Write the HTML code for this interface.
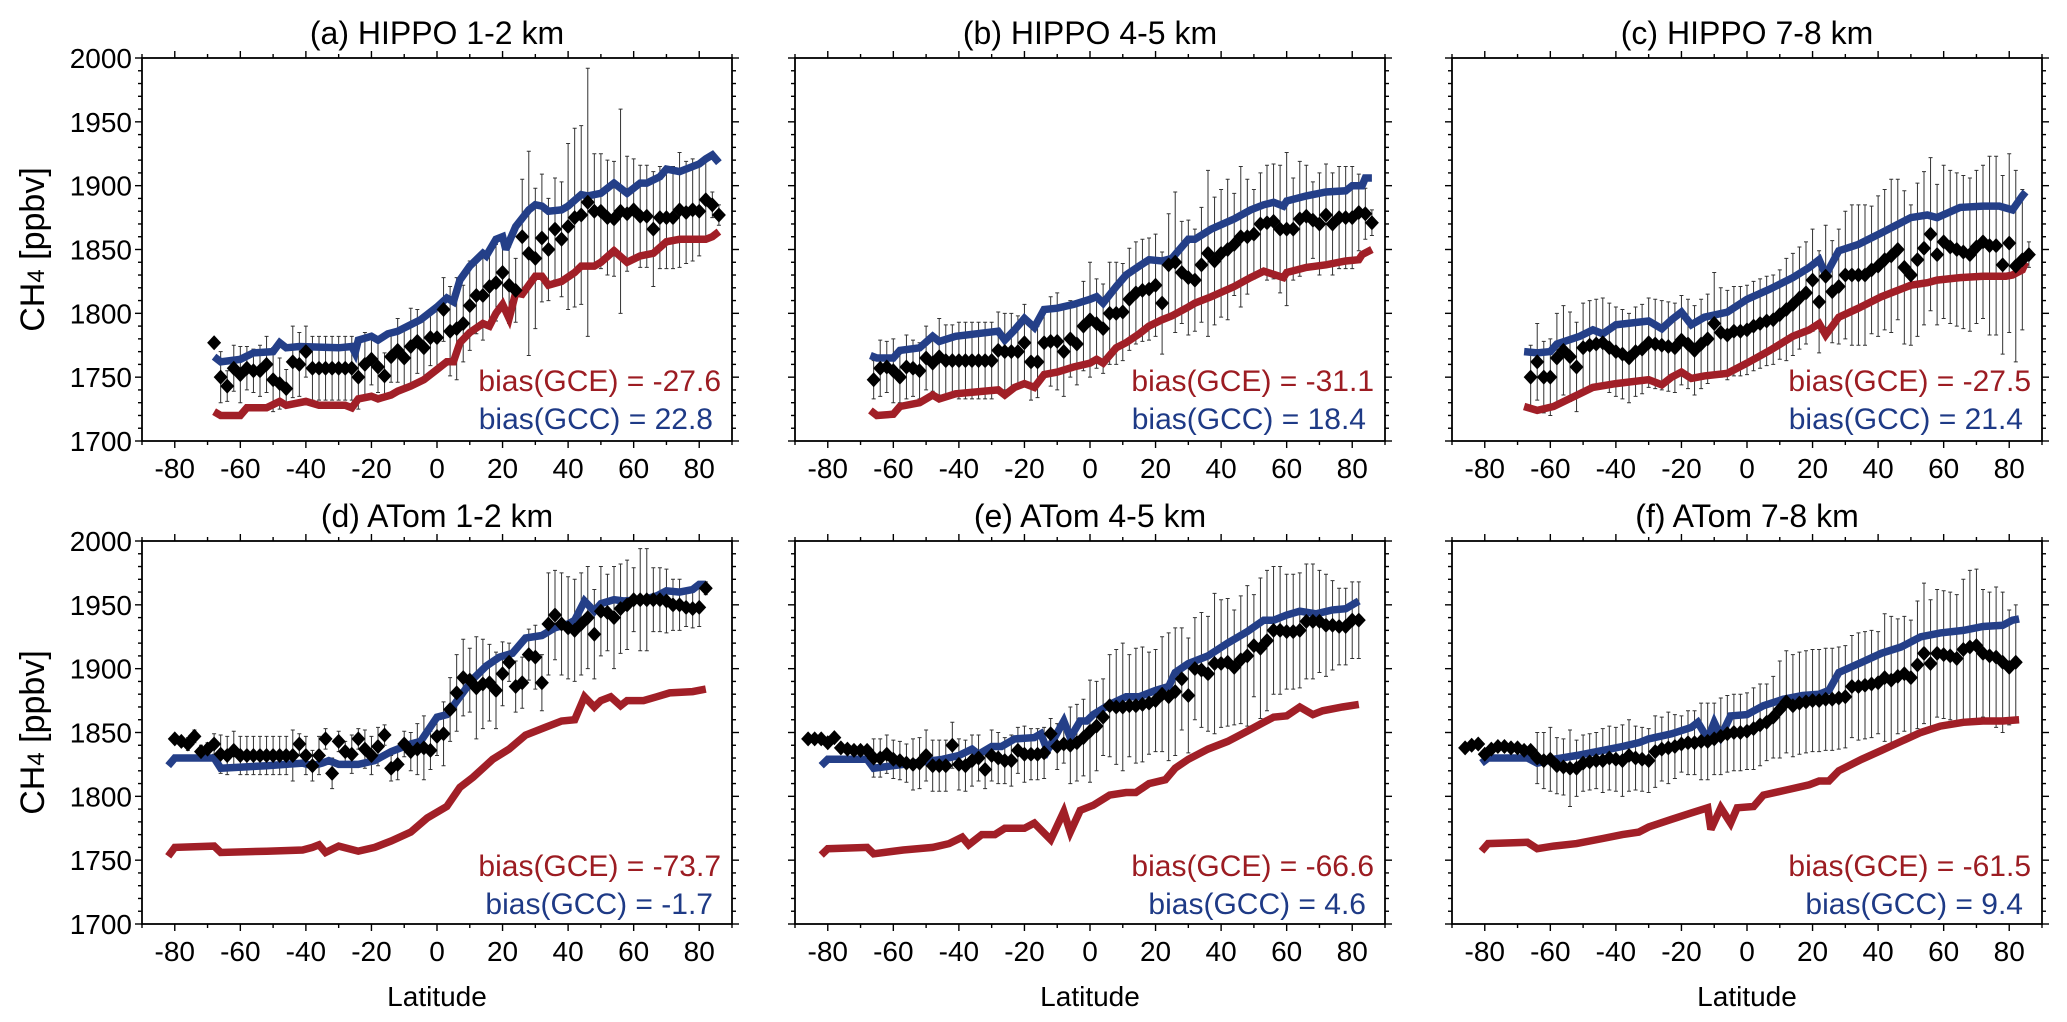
<!DOCTYPE html>
<html><head><meta charset="utf-8"><title>CH4 latitude profiles</title>
<style>
html,body{margin:0;padding:0;background:#fff;}
svg{display:block;font-family:"Liberation Sans",Arial,sans-serif;}
</style></head>
<body>
<svg id="chart" xmlns="http://www.w3.org/2000/svg" width="2067" height="1022" viewBox="0 0 2067 1022">
<rect x="0" y="0" width="2067" height="1022" fill="#fff"/>
</svg>
<script>
// ---------- shared axis data ----------
const X_TICKS = [-80,-60,-40,-20,0,20,40,60,80];
const Y_TICKS = [1700,1750,1800,1850,1900,1950,2000];
const PANEL_TITLES = ["(a) HIPPO 1-2 km","(b) HIPPO 4-5 km","(c) HIPPO 7-8 km","(d) ATom 1-2 km","(e) ATom 4-5 km","(f) ATom 7-8 km"];
const BIAS_GCE = ["-27.6","-31.1","-27.5","-73.7","-66.6","-61.5"];
const BIAS_GCC = ["22.8","18.4","21.4","-1.7","4.6","9.4"];

// ---------- panel (a) ----------
const A_GCC_LAT = [-68,-66,-60,-56,-50,-48,-46,-42,-30,-26,-25,-24,-20,-18,-15,-12,-5,0,3,5,7,10,14,15,18,20,21,24,28,30,32,34,38,40,44,46,50,54,58,62,64,68,70,74,80,82,84,86];
const A_GCC_VAL = [1766,1762,1764,1769,1770,1777,1773,1774,1773,1774,1769,1779,1782,1779,1784,1786,1795,1805,1812,1809,1826,1837,1847,1845,1858,1860,1850,1868,1881,1885,1884,1880,1881,1884,1893,1892,1894,1902,1894,1902,1902,1907,1913,1911,1917,1921,1924,1918];
const A_GCE_LAT = [-68,-66,-60,-58,-52,-48,-46,-40,-36,-28,-26,-24,-20,-18,-14,-12,-8,-4,0,3,5,7,10,14,16,18,20,22,24,26,30,32,34,38,42,44,48,50,54,58,62,66,70,74,78,82,84,86];
const A_GCE_VAL = [1723,1720,1720,1726,1726,1731,1728,1731,1728,1728,1726,1733,1735,1733,1736,1739,1743,1748,1756,1762,1762,1777,1785,1792,1790,1800,1807,1796,1816,1815,1829,1829,1822,1825,1832,1837,1837,1840,1849,1840,1845,1847,1856,1858,1858,1858,1860,1864];
const A_OBS_LAT = [-68,-66,-64,-62,-60,-58,-56,-54,-52,-50,-48,-46,-44,-42,-40,-38,-36,-34,-32,-30,-28,-26,-24,-22,-20,-18,-16,-14,-12,-10,-8,-6,-4,-2,0,2,4,6,8,10,12,14,16,18,20,22,24,26,28,30,32,34,36,38,40,42,44,46,48,50,52,54,56,58,60,62,64,66,68,70,72,74,76,78,80,82,84,86];
const A_OBS_VAL = [1777,1750,1743,1757,1752,1757,1755,1755,1760,1748,1745,1741,1762,1760,1770,1757,1757,1757,1757,1757,1757,1757,1750,1760,1764,1758,1751,1766,1771,1765,1774,1778,1773,1781,1781,1803,1786,1788,1792,1806,1814,1814,1821,1824,1832,1822,1818,1860,1847,1843,1859,1850,1866,1858,1868,1875,1877,1887,1880,1880,1875,1874,1880,1878,1881,1876,1876,1866,1875,1875,1875,1881,1879,1881,1880,1889,1885,1877];
const A_OBS_ERR = [0,20,12,18,22,17,17,20,22,25,20,15,28,25,20,25,25,25,25,25,25,25,25,25,20,20,18,20,25,22,30,25,25,22,25,25,35,40,30,35,30,35,30,30,30,30,25,45,80,55,50,40,40,45,65,70,70,105,45,45,45,45,80,45,40,40,40,45,40,40,40,45,40,40,35,30,10,8];

// ---------- panel (b) ----------
const B_GCC_LAT = [-67,-65,-60,-58,-52,-48,-46,-41,-28,-26,-23,-20,-17,-14,-10,-5,0,2,4,8,11,15,18,22,25,30,32,37,44,49,53,56,59,60,66,72,78,80,83,84,86];
const B_GCC_VAL = [1767,1765,1765,1771,1773,1782,1778,1782,1786,1779,1787,1796,1789,1803,1804,1807,1811,1813,1808,1821,1830,1837,1842,1841,1843,1858,1858,1866,1874,1881,1885,1887,1884,1888,1892,1895,1896,1900,1900,1906,1906];
const B_GCE_LAT = [-67,-65,-60,-58,-52,-48,-46,-41,-28,-26,-23,-20,-17,-14,-10,-5,0,2,4,8,11,15,18,22,25,30,32,37,44,49,53,59,60,66,72,78,82,83,86];
const B_GCE_VAL = [1724,1720,1721,1727,1730,1736,1733,1737,1740,1736,1742,1745,1742,1752,1754,1758,1761,1764,1761,1773,1777,1784,1790,1795,1798,1805,1808,1813,1821,1828,1833,1828,1832,1836,1838,1841,1842,1846,1850];
const B_OBS_LAT = [-66,-64,-62,-60,-58,-56,-54,-52,-50,-48,-46,-44,-42,-40,-38,-36,-34,-32,-30,-28,-26,-24,-22,-20,-18,-16,-14,-12,-10,-8,-6,-4,-2,0,2,4,6,8,10,12,14,16,18,20,22,24,26,28,30,32,34,36,38,40,42,44,46,48,50,52,54,56,58,60,62,64,66,68,70,72,74,76,78,80,82,84,86];
const B_OBS_VAL = [1748,1757,1758,1755,1750,1758,1757,1755,1765,1761,1766,1763,1763,1763,1763,1763,1763,1763,1763,1771,1770,1770,1770,1777,1762,1762,1777,1778,1778,1770,1780,1776,1790,1795,1792,1788,1800,1800,1801,1811,1816,1818,1819,1822,1808,1838,1840,1832,1828,1826,1838,1847,1841,1847,1850,1854,1860,1860,1862,1870,1871,1872,1866,1866,1866,1874,1876,1873,1870,1877,1870,1875,1875,1875,1879,1878,1871];
const B_OBS_ERR = [15,22,20,25,20,25,22,22,25,22,30,28,28,30,30,30,30,30,30,30,30,30,28,30,30,28,25,35,38,35,30,32,35,45,35,35,40,40,38,40,40,40,40,40,40,40,55,40,45,40,45,65,50,50,55,40,55,45,35,40,45,45,50,60,40,45,40,30,40,40,40,40,40,40,30,20,10];

// ---------- panel (c) ----------
const C_GCC_LAT = [-68,-64,-60,-58,-51,-47,-44,-40,-30,-26,-23,-20,-17,-13,-6,0,7,14,19,22,24,28,34,41,50,55,58,65,72,77,81,84,85];
const C_GCC_VAL = [1770,1769,1770,1776,1782,1787,1784,1791,1794,1788,1795,1801,1791,1797,1801,1811,1819,1828,1836,1842,1830,1849,1854,1863,1875,1877,1875,1883,1884,1884,1881,1892,1895];
const C_GCE_LAT = [-68,-64,-59,-51,-47,-40,-30,-26,-23,-20,-17,-13,-6,0,7,14,19,22,24,28,34,41,50,55,58,65,72,79,81,84,85];
const C_GCE_VAL = [1727,1724,1727,1737,1742,1745,1748,1744,1750,1754,1749,1751,1753,1761,1771,1782,1787,1792,1783,1797,1804,1813,1822,1824,1826,1828,1829,1829,1830,1834,1840];
const C_OBS_LAT = [-66,-64,-62,-60,-58,-56,-54,-52,-50,-48,-46,-44,-42,-40,-38,-36,-34,-32,-30,-28,-26,-24,-22,-20,-18,-16,-14,-12,-10,-8,-6,-4,-2,0,2,4,6,8,10,12,14,16,18,20,22,24,26,28,30,32,34,36,38,40,42,44,46,48,50,52,54,56,58,60,62,64,66,68,70,72,74,76,78,80,82,84,86];
const C_OBS_VAL = [1750,1762,1750,1750,1765,1771,1766,1758,1773,1775,1776,1777,1773,1770,1768,1765,1770,1772,1777,1776,1775,1774,1773,1779,1776,1771,1776,1780,1792,1785,1783,1786,1786,1787,1790,1792,1794,1795,1799,1803,1807,1812,1816,1826,1809,1829,1817,1821,1830,1830,1830,1830,1834,1837,1842,1845,1850,1836,1830,1842,1851,1862,1846,1856,1852,1850,1848,1846,1852,1856,1853,1853,1838,1855,1837,1842,1846];
const C_OBS_ERR = [25,30,28,30,35,35,35,35,35,35,35,35,35,35,35,35,35,35,35,35,35,35,35,35,35,35,35,35,40,35,35,35,35,35,35,35,35,35,35,40,40,40,40,40,40,40,40,45,50,55,55,55,50,55,55,60,55,60,55,60,60,60,55,60,60,60,60,60,60,60,70,70,70,70,75,55,10];

// ---------- panel (d) ----------
const D_GCC_LAT = [-82,-80,-68,-66,-52,-41,-38,-35,-33,-30,-24,-19,-14,-8,-5,0,3,7,11,15,19,23,27,32,36,40,42,45,48,50,54,57,63,67,70,74,78,80,82];
const D_GCC_VAL = [1824,1830,1830,1822,1824,1826,1824,1826,1828,1825,1825,1828,1835,1841,1843,1862,1864,1878,1892,1902,1909,1912,1924,1926,1932,1935,1938,1953,1945,1951,1954,1953,1954,1957,1961,1960,1962,1966,1966];
const D_GCE_LAT = [-82,-80,-68,-66,-52,-41,-38,-36,-34,-30,-24,-19,-14,-8,-3,3,7,11,17,22,27,33,38,42,45,48,50,53,56,58,63,67,71,78,82];
const D_GCE_VAL = [1753,1760,1761,1756,1757,1758,1760,1762,1756,1761,1757,1760,1765,1772,1783,1792,1807,1815,1829,1837,1848,1854,1859,1860,1878,1870,1875,1878,1871,1875,1875,1878,1881,1882,1884];
const D_OBS_LAT = [-80,-78,-76,-74,-72,-70,-68,-66,-64,-62,-60,-58,-56,-54,-52,-50,-48,-46,-44,-42,-40,-38,-36,-34,-32,-30,-28,-26,-24,-22,-20,-18,-16,-14,-12,-10,-8,-6,-4,-2,0,2,4,6,8,10,12,14,16,18,20,22,24,26,28,30,32,34,36,38,40,42,44,46,48,50,52,54,56,58,60,62,64,66,68,70,72,74,76,78,80,82];
const D_OBS_VAL = [1845,1843,1841,1847,1835,1837,1841,1833,1832,1836,1832,1832,1832,1832,1832,1832,1832,1832,1832,1841,1832,1824,1832,1845,1818,1843,1835,1833,1845,1837,1832,1839,1848,1822,1825,1841,1835,1837,1838,1836,1847,1849,1868,1881,1893,1891,1885,1888,1889,1883,1896,1905,1886,1889,1911,1909,1889,1935,1942,1935,1932,1930,1935,1940,1927,1945,1944,1940,1947,1950,1954,1954,1954,1954,1954,1953,1950,1950,1948,1947,1948,1963];
const D_OBS_ERR = [0,0,5,5,5,5,8,15,15,15,15,15,15,15,15,15,15,15,20,8,15,12,15,8,12,8,8,15,8,15,15,15,8,10,12,10,15,20,25,15,15,25,25,30,30,25,40,35,30,30,25,15,20,20,20,25,22,40,35,40,40,40,40,40,35,35,30,40,35,35,25,40,40,25,25,25,20,20,15,15,15,5];

// ---------- panel (e) ----------
const E_GCC_LAT = [-82,-80,-68,-66,-57,-45,-40,-36,-34,-30,-27,-23,-17,-15,-13,-8,-6,-3,-1,1,6,11,15,20,24,26,30,36,42,48,53,56,60,64,69,74,78,82];
const E_GCC_VAL = [1824,1829,1829,1822,1825,1829,1832,1837,1833,1839,1839,1845,1846,1849,1836,1859,1846,1859,1859,1864,1872,1878,1878,1883,1886,1897,1904,1910,1920,1929,1938,1938,1942,1945,1943,1946,1947,1953];
const E_GCE_LAT = [-82,-80,-68,-66,-57,-48,-43,-39,-37,-33,-29,-26,-20,-17,-12,-8,-6,-3,-1,1,6,11,14,18,23,26,30,36,42,48,53,56,60,64,68,71,77,82];
const E_GCE_VAL = [1754,1759,1760,1755,1758,1760,1763,1768,1762,1770,1770,1775,1775,1779,1766,1788,1772,1789,1791,1793,1801,1803,1803,1810,1813,1822,1829,1837,1843,1851,1858,1862,1863,1870,1864,1867,1870,1872];
const E_OBS_LAT = [-86,-84,-82,-80,-78,-76,-74,-72,-70,-68,-66,-64,-62,-60,-58,-56,-54,-52,-50,-48,-46,-44,-42,-40,-38,-36,-34,-32,-30,-28,-26,-24,-22,-20,-18,-16,-14,-12,-10,-8,-6,-4,-2,0,2,4,6,8,10,12,14,16,18,20,22,24,26,28,30,32,34,36,38,40,42,44,46,48,50,52,54,56,58,60,62,64,66,68,70,72,74,76,78,80,82];
const E_OBS_VAL = [1845,1845,1845,1842,1846,1838,1837,1836,1836,1836,1830,1830,1833,1829,1828,1826,1825,1826,1832,1824,1824,1824,1840,1825,1824,1828,1830,1821,1832,1830,1828,1828,1836,1833,1833,1833,1834,1849,1839,1841,1840,1842,1846,1851,1855,1862,1871,1870,1870,1871,1871,1872,1873,1875,1880,1878,1882,1892,1879,1900,1899,1896,1904,1904,1905,1901,1907,1910,1918,1916,1922,1930,1930,1929,1929,1930,1937,1937,1937,1934,1934,1933,1933,1938,1938];
const E_OBS_ERR = [0,0,0,0,0,0,0,0,0,0,15,15,15,15,15,15,20,20,20,20,20,20,18,20,20,20,18,15,20,20,18,20,18,22,20,20,20,12,18,15,30,30,30,40,35,30,40,45,50,40,45,45,40,40,45,50,50,40,45,40,45,45,55,50,50,45,50,55,40,55,55,50,50,45,45,45,45,45,40,40,35,30,30,30,30];

// ---------- panel (f) ----------
const F_GCC_LAT = [-81,-79,-67,-64,-59,-52,-44,-38,-33,-30,-23,-17,-15,-12,-10,-8,-5,0,5,11,17,22,25,28,35,41,47,53,59,66,72,78,81,83];
const F_GCC_VAL = [1826,1830,1830,1826,1829,1832,1836,1839,1842,1845,1849,1854,1858,1845,1858,1847,1863,1864,1871,1876,1879,1880,1883,1897,1905,1912,1917,1925,1928,1930,1933,1934,1938,1939];
const F_GCE_LAT = [-81,-79,-67,-64,-59,-52,-44,-38,-33,-30,-23,-17,-12,-11,-8,-5,-3,2,5,12,19,22,25,28,35,41,47,53,59,66,72,78,83];
const F_GCE_VAL = [1757,1763,1764,1759,1761,1763,1767,1770,1772,1776,1782,1787,1791,1774,1791,1779,1791,1792,1801,1805,1809,1812,1812,1820,1829,1836,1843,1850,1855,1858,1859,1859,1860];
const F_OBS_LAT = [-86,-84,-82,-80,-78,-76,-74,-72,-70,-68,-66,-64,-62,-60,-58,-56,-54,-52,-50,-48,-46,-44,-42,-40,-38,-36,-34,-32,-30,-28,-26,-24,-22,-20,-18,-16,-14,-12,-10,-8,-6,-4,-2,0,2,4,6,8,10,12,14,16,18,20,22,24,26,28,30,32,34,36,38,40,42,44,46,48,50,52,54,56,58,60,62,64,66,68,70,72,74,76,78,80,82];
const F_OBS_VAL = [1838,1840,1841,1833,1837,1839,1839,1838,1838,1836,1836,1830,1828,1829,1824,1823,1822,1822,1826,1827,1828,1828,1830,1829,1828,1832,1830,1829,1828,1835,1837,1838,1839,1841,1842,1842,1843,1843,1845,1847,1849,1850,1850,1851,1853,1856,1858,1862,1868,1874,1871,1873,1874,1875,1875,1876,1876,1877,1878,1886,1886,1887,1888,1889,1893,1891,1894,1896,1893,1903,1912,1904,1912,1911,1910,1908,1915,1917,1918,1912,1910,1909,1905,1901,1905,1925];
const F_OBS_ERR = [0,0,0,0,0,0,0,0,0,0,0,20,22,25,22,22,30,22,22,22,22,25,25,25,28,28,25,25,25,28,25,28,25,22,25,25,30,30,28,30,30,30,30,30,32,32,30,32,38,40,40,40,40,40,40,40,40,40,40,40,42,42,42,40,50,50,45,45,45,50,55,50,50,50,50,50,55,60,60,50,50,55,55,45,45,12];

// ---------- rendering ----------
const NS = "http://www.w3.org/2000/svg";
const svg = document.getElementById("chart");
const RED = "#a11f27", BLUE = "#243f88", RED_T = "#9c1c22", BLUE_T = "#1e3a86";
const panels = [
  {id:"a", x0:142, x1:732, y0:58, y1:441, gccLat:A_GCC_LAT, gccVal:A_GCC_VAL, gceLat:A_GCE_LAT, gceVal:A_GCE_VAL, oLat:A_OBS_LAT, oVal:A_OBS_VAL, oErr:A_OBS_ERR},
  {id:"b", x0:795, x1:1385, y0:58, y1:441, gccLat:B_GCC_LAT, gccVal:B_GCC_VAL, gceLat:B_GCE_LAT, gceVal:B_GCE_VAL, oLat:B_OBS_LAT, oVal:B_OBS_VAL, oErr:B_OBS_ERR},
  {id:"c", x0:1452, x1:2042, y0:58, y1:441, gccLat:C_GCC_LAT, gccVal:C_GCC_VAL, gceLat:C_GCE_LAT, gceVal:C_GCE_VAL, oLat:C_OBS_LAT, oVal:C_OBS_VAL, oErr:C_OBS_ERR},
  {id:"d", x0:142, x1:732, y0:541, y1:924, gccLat:D_GCC_LAT, gccVal:D_GCC_VAL, gceLat:D_GCE_LAT, gceVal:D_GCE_VAL, oLat:D_OBS_LAT, oVal:D_OBS_VAL, oErr:D_OBS_ERR},
  {id:"e", x0:795, x1:1385, y0:541, y1:924, gccLat:E_GCC_LAT, gccVal:E_GCC_VAL, gceLat:E_GCE_LAT, gceVal:E_GCE_VAL, oLat:E_OBS_LAT, oVal:E_OBS_VAL, oErr:E_OBS_ERR},
  {id:"f", x0:1452, x1:2042, y0:541, y1:924, gccLat:F_GCC_LAT, gccVal:F_GCC_VAL, gceLat:F_GCE_LAT, gceVal:F_GCE_VAL, oLat:F_OBS_LAT, oVal:F_OBS_VAL, oErr:F_OBS_ERR}
];
function mk(tag, attrs, parent){
  const e = document.createElementNS(NS, tag);
  for (const k in attrs) e.setAttribute(k, attrs[k]);
  (parent||svg).appendChild(e);
  return e;
}
panels.forEach((p, i) => {
  const sx = v => p.x0 + (v + 90) / 180 * (p.x1 - p.x0);
  const sy = v => p.y1 - (v - 1700) / 300 * (p.y1 - p.y0);
  const g = mk("g", {});
  
  
  const cx = (p.x0 + p.x1) / 2;
  const t = mk("text", {x: cx, y: p.y0 - 14, "text-anchor":"middle", "font-size":32, fill:"#000"}, g);
  t.textContent = PANEL_TITLES[i];
  
  
  const fr = mk("rect", {x:p.x0, y:p.y0, width:p.x1-p.x0, height:p.y1-p.y0, fill:"none", stroke:"#000", "stroke-width":1.8}, g);
  
  
  const tk = mk("g", {stroke:"#000", "stroke-width":1.4}, g);
  
  
  for (let v = -90; v <= 90; v += 10) {
    const len = (Math.abs(v) % 20 === 0) ? 7 : 4;
    const x = sx(v);
    mk("line", {x1:x, y1:p.y1, x2:x, y2:p.y1+len}, tk);
    mk("line", {x1:x, y1:p.y0, x2:x, y2:p.y0-len}, tk);
  }
  for (let v = 1700; v <= 2000; v += 10) {
    const len = (v % 50 === 0) ? 7 : 4;
    const y = sy(v);
    mk("line", {x1:p.x0-len, y1:y, x2:p.x0, y2:y}, tk);
    mk("line", {x1:p.x1, y1:y, x2:p.x1+len, y2:y}, tk);
  }
  X_TICKS.forEach(v => {
    const tl = mk("text", {x: sx(v), y: p.y1 + 37, "text-anchor":"middle", "font-size":28, fill:"#000"}, g);
    tl.textContent = v;
    
    
  });
  if (p.id === "a" || p.id === "d") {
    Y_TICKS.forEach(v => {
      const tl = mk("text", {x: p.x0 - 10, y: sy(v) + 10, "text-anchor":"end", "font-size":28, fill:"#000"}, g);
      tl.textContent = v;
      
      
    });
    const my = (p.y0 + p.y1) / 2;
    const yt = mk("text", {x: 0, y: 0, "text-anchor":"middle", "font-size":34, fill:"#000", transform:`translate(44,${my}) rotate(-90)`}, g);
    
    
    yt.appendChild(document.createTextNode("CH"));
    const sub = mk("tspan", {"font-size":24}, yt);
    sub.textContent = "4";
    yt.appendChild(document.createTextNode(" [ppbv]"));
  }
  if (p.y0 > 300) {
    const xt = mk("text", {x: cx, y: 1006, "text-anchor":"middle", "font-size":28, fill:"#000"}, g);
    xt.textContent = "Latitude";
    
    
  }
  const clipId = "clip-" + p.id;
  const cp = mk("clipPath", {id: clipId}, g);
  mk("rect", {x:p.x0, y:p.y0, width:p.x1-p.x0, height:p.y1-p.y0}, cp);
  const plot = mk("g", {"clip-path": `url(#${clipId})`}, g);
  const eb = mk("g", {stroke:"#333", "stroke-width":1, fill:"none"}, plot);
  
  
  p.oLat.forEach((lat, k) => {
    const e = p.oErr[k]; if (!e) return;
    const x = sx(lat), ya = sy(p.oVal[k] - e), yb = sy(p.oVal[k] + e);
    mk("path", {d:`M${x},${ya}V${yb}M${x-2},${ya}H${x+2}M${x-2},${yb}H${x+2}`}, eb);
  });
  [["gce", p.gceLat, p.gceVal, RED], ["gcc", p.gccLat, p.gccVal, BLUE]].forEach(s => {
    const pts = s[1].map((lat, k) => sx(lat).toFixed(1) + "," + sy(s[2][k]).toFixed(1)).join(" ");
    const pl = mk("polyline", {points: pts, fill:"none", stroke:s[3], "stroke-width":7.5, "stroke-linejoin":"miter", "stroke-miterlimit":3}, plot);
    
    
  });
  const dg = mk("g", {fill:"#000"}, plot);
  
  
  p.oLat.forEach((lat, k) => {
    const x = sx(lat), y = sy(p.oVal[k]);
    const d = mk("path", {d:`M${x},${y-7.5}L${x+7},${y}L${x},${y+7.5}L${x-7},${y}Z`}, dg);
    
    
  });
  const bx = p.x1 - 11;
  const redY = p.y0 < 300 ? 391 : 876;
  const b1 = mk("text", {x:bx, y:redY, "text-anchor":"end", "font-size":30, fill:RED_T}, g);
  b1.textContent = "bias(GCE) = " + BIAS_GCE[i];
  
  
  const b2 = mk("text", {x:bx - 8, y:redY + 38, "text-anchor":"end", "font-size":30, fill:BLUE_T}, g);
  b2.textContent = "bias(GCC) = " + BIAS_GCC[i];
  
  
});
</script>
</body></html>
